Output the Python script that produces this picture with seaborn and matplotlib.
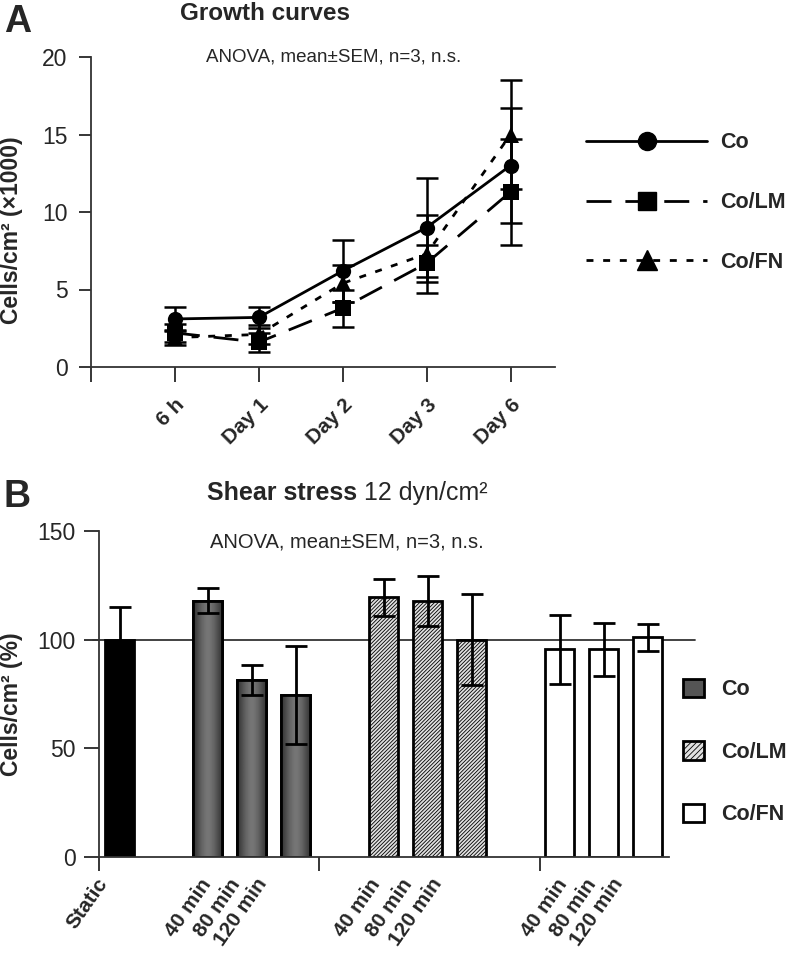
import numpy as np
import pandas as pd
import matplotlib
matplotlib.use('Agg')
import matplotlib.pyplot as plt
import matplotlib.transforms as mtransforms
import seaborn as sns
from matplotlib.lines import Line2D
from matplotlib.patches import Patch

# ---- panel A data: growth curves (cells/cm2 x1000, mean and SEM)
times = ['6 h', 'Day 1', 'Day 2', 'Day 3', 'Day 6']
co_mean = [3.1, 3.2, 6.2, 9.0, 13.0]
co_sem = [0.8, 0.7, 2.0, 3.2, 3.7]
lm_mean = [2.2, 1.6, 3.8, 6.7, 11.3]
lm_sem = [0.6, 0.6, 1.2, 1.2, 3.4]
fn_mean = [1.9, 2.1, 5.4, 7.3, 15.0]
fn_sem = [0.5, 0.6, 1.2, 2.5, 3.5]

# ---- panel B data: shear stress (% of static)
bar_groups = ['Static', 'Co', 'Co', 'Co', 'Co/LM', 'Co/LM', 'Co/LM', 'Co/FN', 'Co/FN', 'Co/FN']
bar_labels = ['Static', '40 min', '80 min', '120 min', '40 min', '80 min', '120 min',
              '40 min', '80 min', '120 min']
bar_pos = [0, 2, 3, 4, 6, 7, 8, 10, 11, 12]
bar_mean = [100, 118, 81.5, 74.5, 119.5, 118, 100, 95.5, 95.5, 101]
bar_sem = [15, 5.8, 7, 22.5, 8.5, 11.5, 21, 16, 12, 6]

sns.set_theme(style='white')
plt.rcParams['font.family'] = ['Liberation Sans', 'DejaVu Sans']
plt.rcParams['axes.linewidth'] = 1.3
plt.rcParams['hatch.linewidth'] = 0.6
plt.rcParams['hatch.color'] = '#3a3a3a'

fig = plt.figure(figsize=(7.92, 9.6), dpi=100)
axA = fig.add_axes([91 / 792, 1 - 367 / 960, (555 - 91) / 792, (367 - 57) / 960])
axB = fig.add_axes([99 / 792, 1 - 857 / 960, (669 - 99) / 792, (857 - 531) / 960])

# ---------------- panel A
rows = []
for name, m, s in [('Co', co_mean, co_sem), ('Co/LM', lm_mean, lm_sem), ('Co/FN', fn_mean, fn_sem)]:
    for i, t in enumerate(times):
        rows.append({'x': i, 'time': t, 'cells': m[i], 'sem': s[i], 'group': name})
growth = pd.DataFrame(rows)

markers = {'Co': 'o', 'Co/LM': 's', 'Co/FN': '^'}
dashes = {'Co': '', 'Co/LM': (9, 5), 'Co/FN': (2.5, 3.5)}
black = {'Co': 'black', 'Co/LM': 'black', 'Co/FN': 'black'}
msize = {'Co': 11, 'Co/LM': 11, 'Co/FN': 12}

for name, g in growth.groupby('group', sort=False):
    axA.errorbar(g['x'], g['cells'], yerr=g['sem'], fmt='none', ecolor='black',
                 elinewidth=1.8, capsize=8, capthick=1.8, zorder=2)

sns.lineplot(data=growth, x='x', y='cells', hue='group', style='group', markers=markers,
             dashes=dashes, palette=black, linewidth=2, markersize=11, markeredgewidth=0,
             ax=axA, legend=False, zorder=3)

axA.set_xlim(-1.0, 4.53)
axA.set_ylim(0, 20)
axA.set_xticks(range(-1, 5))
axA.set_xticklabels([''] + times, rotation=45, ha='right', rotation_mode='anchor',
                    fontsize=15, fontweight='bold')
axA.set_yticks([0, 5, 10, 15, 20])
axA.tick_params(axis='y', labelsize=16.5, direction='out', length=9, width=1.3, left=True, pad=8)
axA.tick_params(axis='x', direction='out', length=11, width=1.3, bottom=True, pad=9)
for sp in ['top', 'right']:
    axA.spines[sp].set_visible(False)
axA.spines['left'].set_color('#333333')
axA.spines['bottom'].set_color('#333333')
axA.set_xlabel('')
axA.set_ylabel('Cells/cm² (×1000)', fontsize=16.5, fontweight='bold')
axA.yaxis.set_label_coords(-68 / 464, 0.44)

handlesA = [Line2D([], [], color='black', lw=2, marker=markers[k], markersize=msize[k] + 2,
                   dashes=dashes[k] if dashes[k] else (None, None),
                   linestyle='-' if not dashes[k] else '--')
            for k in ['Co', 'Co/LM', 'Co/FN']]
handlesA[0].set_linestyle('-')
fig.legend(handlesA, ['Co', 'Co/LM', 'Co/FN'], loc='upper left',
           bbox_to_anchor=(567 / 792, 1 - 113 / 960), frameon=False, handlelength=5.6,
           labelspacing=1.8, handletextpad=0.6, prop={'weight': 'bold', 'size': 15.5})

fig.text(4 / 792, 1 - 32 / 960, 'A', fontsize=27, fontweight='bold', va='baseline', ha='left')
fig.text(265 / 792, 1 - 20 / 960, 'Growth curves', fontsize=17.5, fontweight='bold',
         ha='center', va='baseline')
fig.text(334 / 792, 1 - 57 / 960, 'ANOVA, mean±SEM, n=3, n.s.', fontsize=13.5,
         ha='center', va='center')

# ---------------- panel B
df_b = pd.DataFrame({'pos': bar_pos, 'value': bar_mean, 'sem': bar_sem,
                     'group': bar_groups, 'label': bar_labels})
palB = {'Static': 'black', 'Co': '#555555', 'Co/LM': '#e0e0e0', 'Co/FN': 'white'}
sns.barplot(data=df_b, x='pos', y='value', hue='group', palette=palB, native_scale=True,
            width=0.66, dodge=False, errorbar=None, edgecolor='black', linewidth=2,
            ax=axB, legend=False, zorder=2)

# Co bars: dark metallic gradient
grad = np.array([[0.22, 0.3, 0.38, 0.44, 0.47, 0.44, 0.38, 0.3, 0.22]])
for p in axB.patches:
    cx = p.get_x() + p.get_width() / 2
    idx = int(np.argmin([abs(cx - b) for b in bar_pos]))
    grp = bar_groups[idx]
    if grp == 'Co/LM':
        p.set_hatch('/////////')
    if grp == 'Co':
        im = axB.imshow(grad, cmap='gray', vmin=0, vmax=1, aspect='auto',
                        extent=[p.get_x(), p.get_x() + p.get_width(), 0, p.get_height()],
                        zorder=2.05, interpolation='bicubic')
        im.set_clip_path(p)
        axB.add_patch(plt.Rectangle((p.get_x(), 0), p.get_width(), p.get_height(),
                                    fill=False, edgecolor='black', lw=2, zorder=2.1))

axB.errorbar(df_b['pos'], df_b['value'], yerr=df_b['sem'], fmt='none', ecolor='black',
             elinewidth=2, capsize=8, capthick=2, zorder=5)
axB.axhline(100, xmin=-0.01, xmax=1.046, color='#333333', lw=1.3, clip_on=False, zorder=1)

axB.set_xlim(-0.47, 12.48)
axB.set_ylim(0, 150)
axB.set_yticks([0, 50, 100, 150])
axB.set_xticks(bar_pos)
axB.set_xticklabels(bar_labels, rotation=55, ha='right', rotation_mode='anchor',
                    fontsize=15, fontweight='bold')
axB.set_xticks([-0.47, 4.52, 9.56], minor=True)
axB.tick_params(axis='x', which='major', length=0, pad=13)
axB.tick_params(axis='x', which='minor', direction='out', length=10, width=1.3, bottom=True)
axB.tick_params(axis='y', labelsize=16.5, direction='out', length=11, width=1.3, left=True, pad=6)
# shift of each tick label (pixels), as in the original layout
label_dx = [-24, -8, -23, -40, -15, -27, -42, -4, -19, -37]
for lab, dx in zip(axB.get_xticklabels(), label_dx):
    lab.set_transform(lab.get_transform() + mtransforms.ScaledTranslation(dx / 100, 0, fig.dpi_scale_trans))
for sp in ['top', 'right']:
    axB.spines[sp].set_visible(False)
axB.spines['left'].set_color('#333333')
axB.spines['bottom'].set_color('#333333')
axB.set_xlabel('')
axB.set_ylabel('Cells/cm² (%)', fontsize=16.5, fontweight='bold')
axB.yaxis.set_label_coords(-76 / 570, 0.47)

handlesB = [Patch(facecolor='#555555', edgecolor='black', lw=2),
            Patch(facecolor='#e0e0e0', edgecolor='black', lw=2, hatch='//////'),
            Patch(facecolor='white', edgecolor='black', lw=2)]
fig.legend(handlesB, ['Co', 'Co/LM', 'Co/FN'], loc='center left',
           bbox_to_anchor=(664 / 792, 1 - 752 / 960), frameon=False, handlelength=0.95,
           handleheight=0.95, labelspacing=1.9, handletextpad=0.8,
           prop={'weight': 'bold', 'size': 15.5})

fig.text(3 / 792, 1 - 507 / 960, 'B', fontsize=27, fontweight='bold', va='baseline', ha='left')
tb = fig.text(207 / 792, 1 - 500 / 960, 'Shear stress', fontsize=18, fontweight='bold',
              ha='left', va='baseline')
axB.annotate(' 12 dyn/cm²', xy=(1, 0), xycoords=tb, ha='left', va='bottom', fontsize=18)
fig.text(347 / 792, 1 - 542 / 960, 'ANOVA, mean±SEM, n=3, n.s.', fontsize=14.5,
         ha='center', va='center')

fig.savefig('out.png', dpi=100)
